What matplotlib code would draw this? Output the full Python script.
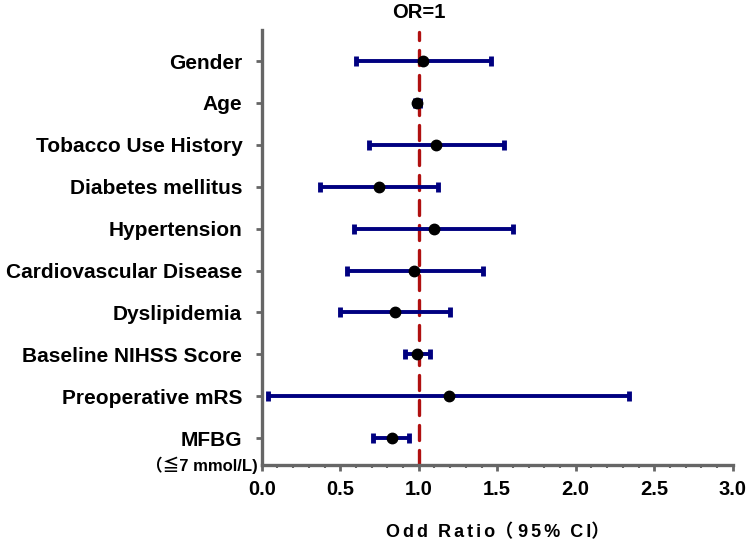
import numpy as np
import matplotlib.pyplot as plt

labels = ['Gender', 'Age', 'Tobacco Use History', 'Diabetes mellitus', 'Hypertension',
          'Cardiovascular Disease', 'Dyslipidemia', 'Baseline NIHSS Score',
          'Preoperative mRS', 'MFBG']
odds = [1.03, 0.99, 1.11, 0.745, 1.10, 0.97, 0.85, 0.99, 1.19, 0.83]
lower = [0.60, 0.975, 0.68, 0.37, 0.59, 0.54, 0.50, 0.91, 0.04, 0.71]
upper = [1.46, 1.005, 1.54, 1.12, 1.60, 1.41, 1.20, 1.07, 2.34, 0.94]

plt.rcParams['font.family'] = ['Liberation Sans', 'Noto Sans CJK SC', 'DejaVu Sans']
plt.rcParams['font.weight'] = 'bold'

fig = plt.figure(figsize=(7.5, 5.43), dpi=100)
ax = fig.add_axes([0.349, 0.1436, 0.628, 0.801])

y = np.arange(len(labels), 0, -1)
odds = np.array(odds)
err = [odds - np.array(lower), np.array(upper) - odds]

ax.axvline(1.0, ymin=0, ymax=0.995, color='#b01010', lw=2.4, dashes=(4.5, 3),
           dash_capstyle='round', zorder=1)
ax.errorbar(odds, y, xerr=err, fmt='none', ecolor='#000080', elinewidth=2.8,
            capsize=3.5, capthick=3.5, zorder=2)
ax.plot(odds, y, 'o', color='black', ms=7.5, zorder=3)

ax.set_xlim(0, 3.0)
ax.set_ylim(0.357, 10.74)
ax.set_xticks(np.arange(0, 3.01, 0.5))
ax.set_xticks(np.arange(0, 3.01, 0.1), minor=True)
ax.set_xticklabels(['%.1f' % v for v in np.arange(0, 3.01, 0.5)], fontsize=14.5, fontweight='bold')
ax.set_yticks(y)
ax.set_yticklabels(labels, fontsize=15, fontweight='bold')

for s in ['top', 'right']:
    ax.spines[s].set_visible(False)
for s in ['left', 'bottom']:
    ax.spines[s].set_color('#666666')
    ax.spines[s].set_linewidth(2.4)
ax.tick_params(axis='y', length=4, width=2, color='#666666', pad=10)
ax.tick_params(axis='x', which='major', length=4, width=2, color='#666666', pad=7)
ax.tick_params(axis='x', which='minor', length=2.5, width=1.5, color='#666666')

ax.text(-0.025, 0.357, '（≦7 mmol/L)', fontsize=12, fontweight='bold',
        ha='right', va='center', clip_on=False)
ax.set_title('OR=1', fontsize=14.5, fontweight='bold', x=1.0 / 3.0, pad=9)
hs = '\u200a\u200a'
ax.set_xlabel(hs.join('Odd') + '  ' + hs.join('Ratio') + '（ ' + hs.join('95%') + '  ' + hs.join('CI') + '）',
              fontsize=13, fontweight='bold', labelpad=18, x=0.5)

fig.savefig('out.png', dpi=100)
